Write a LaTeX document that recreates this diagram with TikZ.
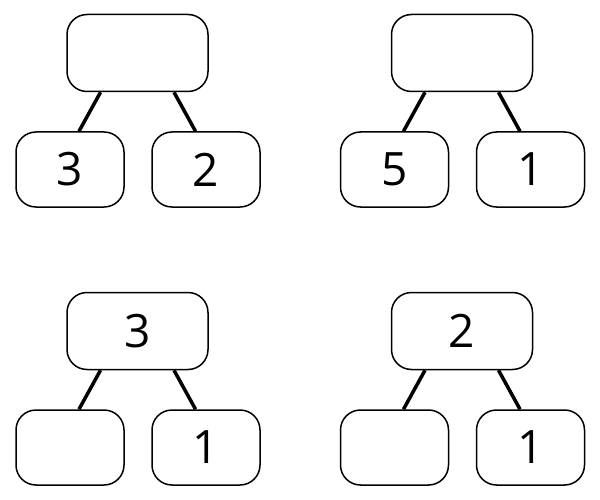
\documentclass[tikz,border=0pt]{standalone}
\usepackage{fontspec}
\setmainfont{Open Sans}
\usetikzlibrary{arrows}

\begin{document}
\begin{tikzpicture}[x=1pt,y=-1pt,
	box/.style={draw=black,line width=1.5pt,rounded corners=20pt,inner sep=0pt,font=\fontsize{46}{46}\selectfont},
	topbox/.style={box,minimum width=141pt,minimum height=77pt},
	leafbox/.style={box,minimum width=108pt,minimum height=75pt},
	link/.style={draw=black,line width=3.5pt}]
			\useasboundingbox (0,0) rectangle (600,500);
			\foreach \i/\px/\py/\top/\lft/\rgt in {1/137.5/53/{}/3/2, 2/462/53/{}/5/1, 3/137.5/331/3/{}/1, 4/462/331/2/{}/1} {
				\node[topbox] (T\i) at (\px,\py) {\top};
				\node[leafbox] (L\i) at (\px-67.5,\py+116.5) {\lft};
				\node[leafbox] (R\i) at (\px+68.5,\py+116.5) {\rgt};
				
				\draw[link] ([xshift=-37pt]T\i.south) -- ([xshift=9pt]L\i.north);
				\draw[link] ([xshift=36.5pt]T\i.south) -- ([xshift=-10.5pt]R\i.north);
			}
		\end{tikzpicture}
\end{document}
